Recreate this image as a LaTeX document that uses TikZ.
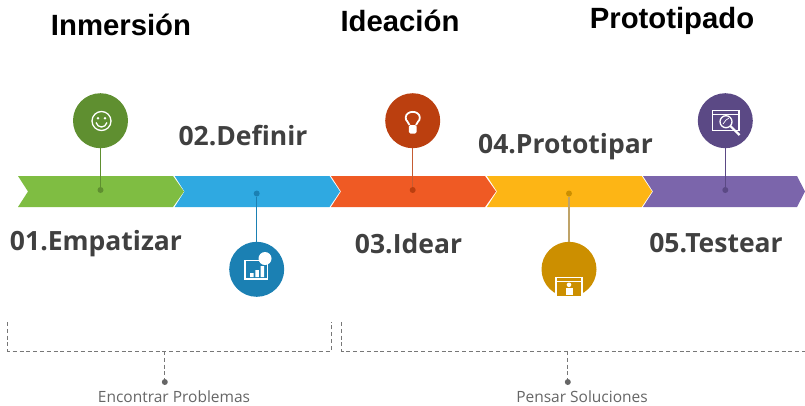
\documentclass[tikz,border=0pt]{standalone}
\usepackage{fontspec}
\setmainfont{Open Sans}
\newfontfamily\titlefont{Liberation Sans}
\usetikzlibrary{positioning, calc}

\definecolor{greenA}{HTML}{7FBD42}
\definecolor{greenB}{HTML}{5F8F30}
\definecolor{blueA}{HTML}{2FA9E1}
\definecolor{blueB}{HTML}{1B80B3}
\definecolor{orangeA}{HTML}{EF5A24}
\definecolor{orangeB}{HTML}{BB3F0F}
\definecolor{yellowA}{HTML}{FDB515}
\definecolor{yellowB}{HTML}{CC8F00}
\definecolor{yellowC}{HTML}{BFA368}
\definecolor{purpleA}{HTML}{7B65AB}
\definecolor{purpleB}{HTML}{5B4985}
\definecolor{labelgray}{HTML}{404040}
\definecolor{notegray}{HTML}{666666}
\definecolor{bracegray}{HTML}{777777}

\begin{document}
\begin{tikzpicture}[x=1pt,y=-1pt,
  head/.style={inner sep=0pt,font=\titlefont\bfseries\fontsize{29.3}{32}\selectfont,text=black},
  step label/.style={inner sep=0pt,font=\bfseries\fontsize{26.5}{30}\selectfont,text=labelgray},
  note/.style={inner sep=0pt,font=\fontsize{15.5}{18}\selectfont,text=notegray},
  disc/.style={circle,minimum size=55pt,inner sep=0pt},
  pin/.style={circle,minimum size=6pt,inner sep=0pt},
  stem/.style={line width=1.5pt},
  icon/.style={draw=white,line width=1.3pt},
  brace/.style={draw=bracegray,line width=1pt,dash pattern=on 4pt off 2.8pt}]
\useasboundingbox (0,0) rectangle (805,405);

\fill [greenA] (18,176) -- (173,176) -- (184,191.5) -- (173,207) -- (18,207) -- (28,191.5) -- cycle;
\fill [blueA] (174.7,176) -- (329.5,176) -- (340,191.5) -- (329.5,207) -- (174.7,207) -- (184.5,191.5) -- cycle;
\fill [orangeA] (331,176) -- (485,176) -- (496,191.5) -- (485,207) -- (331,207) -- (341,191.5) -- cycle;
\fill [yellowA] (487,176) -- (641.7,176) -- (652,191.5) -- (641.7,207) -- (487,207) -- (497,191.5) -- cycle;
\fill [purpleA] (643,176) -- (797,176) -- (805,191.5) -- (797,207) -- (643,207) -- (653,191.5) -- cycle;

\node (c1) [disc, fill=greenB] at (100.5,120.7) {};
\node (c2) [disc, fill=blueB] at (256.7,269.3) {};
\node (c3) [disc, fill=orangeB] at (412.7,120.7) {};
\node (c4) [disc, fill=yellowB] at (569,269.3) {};
\node (c5) [disc, fill=purpleB] at (725.3,120.7) {};

\node (p1) [pin, fill=greenB] at (100.5,190) {};
\node (p2) [pin, fill=blueB] at (256.7,193.5) {};
\node (p3) [pin, fill=orangeB] at (412.7,190) {};
\node (p4) [pin, fill=yellowB] at (569,193.5) {};
\node (p5) [pin, fill=purpleB] at (725.3,190) {};

\draw [stem, greenB] (c1) -- (p1);
\draw [stem, blueB] (c2) -- (p2);
\draw [stem, orangeB!85!white] (c3) -- (p3);
\draw [stem, yellowC] (c4) -- (p4);
\draw [stem, purpleB] (c5) -- (p5);

% icons
\draw [icon] (101.5,121) circle [radius=9.5pt];
\fill [white] (98,118.3) circle [radius=1.4pt] (105,118.3) circle [radius=1.4pt];
\draw [icon] (96,122.5) .. controls (98,128.5) and (105,128.5) .. (107,122.5);

\draw [icon] (245,260.5) rectangle (267.7,279);
\fill [white] (250,273) rectangle (253.5,277) (255.3,270) rectangle (258.8,277) (260.6,266) rectangle (264,277);
\fill [white] (265,258.5) circle [radius=6.5pt];

\draw [icon, line width=1.8pt] (409.5,125) .. controls (409,121.5) and (405.5,121.5) .. (405.7,117.5) .. controls (406,110) and (419.5,110) .. (419.8,117.5) .. controls (420,121.5) and (416.5,121.5) .. (416,125);
\fill [white, rounded corners=1.5pt] (408.8,125) rectangle (416.7,133.5);

\draw [draw=white, fill=yellowB, line width=1.5pt] (556,277.5) rectangle (582,296.8);
\draw [icon, line width=.8pt] (556,281) -- (582,281);
\fill [white] (569,284.8) circle [radius=2.3pt];
\fill [white] (565.5,288) rectangle (572.5,294.5);

\draw [icon] (712.5,110.5) rectangle (739,130.5);
\draw [icon, line width=.8pt] (712.5,114) -- (739,114);
\draw [icon] (726,121.7) circle [radius=6pt];
\draw [icon, line width=2.2pt] (730.5,126.2) -- (739.5,135);
\draw [icon, line width=.7pt] (723,124) -- (726,120) -- (729,118);

% labels
\node (t1) [head] at (121,25) {Inmersión};
\node (t2) [head] at (400,21) {Ideación};
\node (t3) [head] at (672,21) {Prototipado};

\node (l1) [step label] at (96,243.5) {01.Empatizar};
\node (l2) [step label] at (243,136) {02.Definir};
\node (l3) [step label] at (408.5,243.5) {03.Idear};
\node (l4) [step label] at (565.5,147) {04.Prototipar};
\node (l5) [step label] at (716,243.5) {05.Testear};

% brackets
\coordinate (a1) at (7.7,322);
\coordinate (a2) at (7.7,351);
\coordinate (a3) at (331,351);
\coordinate (a4) at (331,322);
\coordinate (a5) at (164.8,351);
\coordinate (b1) at (341.4,322);
\coordinate (b2) at (341.4,351);
\coordinate (b3) at (805,351);
\coordinate (b5) at (567.8,351);
\node (d1) [pin, fill=notegray] at (164.8,382) {};
\node (d2) [pin, fill=notegray] at (567.8,382) {};
\draw [brace] (a1) -- (a2) -- (a3) -- (a4);
\draw [brace] (b1) -- (b2) -- (b3);
\draw [brace] (a5) -- (d1);
\draw [brace] (b5) -- (d2);
\node (n1) [note] at (174,397) {Encontrar Problemas};
\node (n2) [note] at (582,397) {Pensar Soluciones};
\end{tikzpicture}
\end{document}
